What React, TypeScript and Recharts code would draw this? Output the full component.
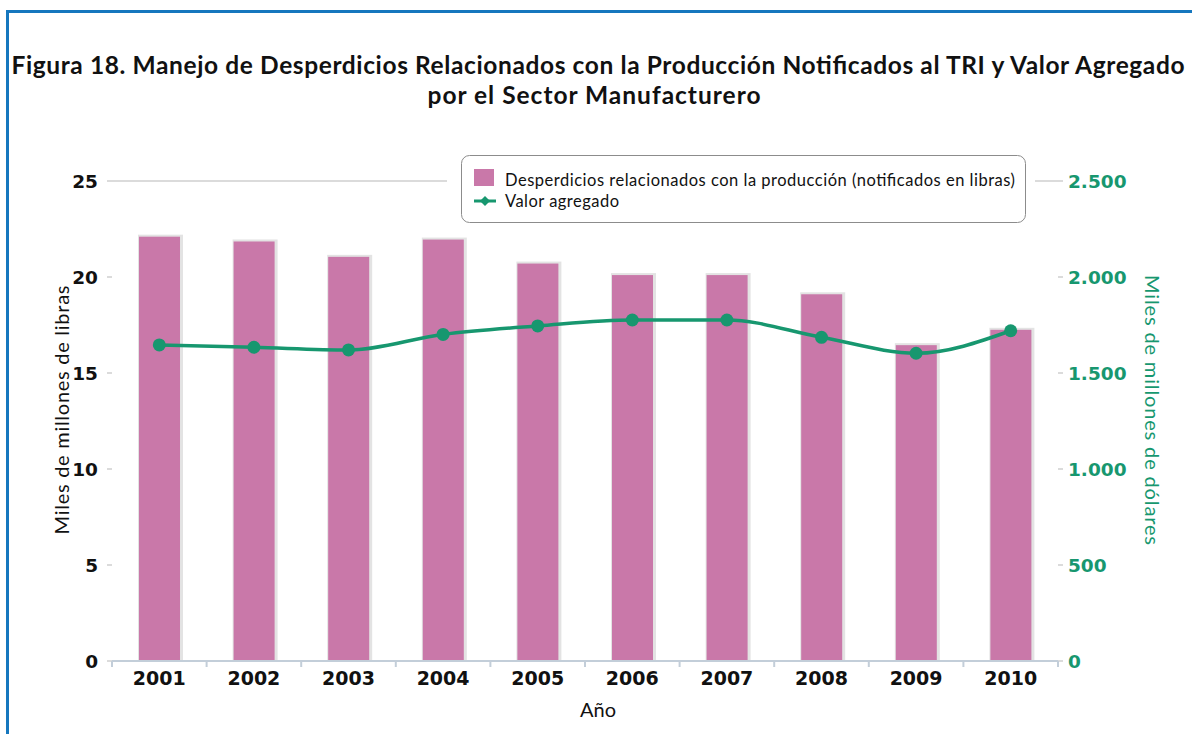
import React from "react";
import { Bar, CartesianGrid, ComposedChart, Legend, Line, XAxis, YAxis } from "recharts";

const years = ["2001", "2002", "2003", "2004", "2005", "2006", "2007", "2008", "2009", "2010"];
const desperdicios = [22.1, 21.85, 21.05, 21.95, 20.7, 20.1, 20.1, 19.1, 16.45, 17.25];
const valorAgregado = [1646, 1634, 1620, 1701, 1745, 1776, 1776, 1686, 1603, 1720];
const leftTicks = [0, 5, 10, 15, 20, 25];
const rightTicks = [0, 500, 1000, 1500, 2000, 2500];

const PINK = "#c978a9";
const GREEN = "#17976f";
const GRID = "#cfcfcf";
const AXIS = "#c3ced9";
const SANS = "Lato, 'Open Sans', sans-serif";
const TICK_FONT = "'DejaVu Sans', Verdana, sans-serif";

const data = years.map((year, i) => ({
  year,
  desperdicios: desperdicios[i],
  valor: valorAgregado[i],
}));

const fmtThousands = (v: number) => String(v).replace(/\B(?=(\d{3})+(?!\d))/g, ".");

function ShadowBar(props: any) {
  const { x, y, width, height } = props;
  if (!height || height <= 0) return null;
  return (
    <g>
      <rect x={x - 1} y={y - 2} width={width + 4} height={height + 2} fill="#e3e3e3" />
      <rect x={x} y={y} width={width} height={height} fill={PINK} />
    </g>
  );
}

function YearTick(props: any) {
  const { x, y, payload, index, visibleTicksCount } = props;
  const half = payload?.offset ?? 47.3;
  const top = y - 10;
  return (
    <g>
      <line x1={x - half} x2={x - half} y1={top} y2={top + 6} stroke={AXIS} strokeWidth={2} />
      {index === visibleTicksCount - 1 && (
        <line x1={x + half} x2={x + half} y1={top} y2={top + 6} stroke={AXIS} strokeWidth={2} />
      )}
      <text x={x} y={y + 14} textAnchor="middle" fontFamily={TICK_FONT} fontWeight="bold" fontSize={19} fill="#111">
        {payload.value}
      </text>
    </g>
  );
}

function LegendBox() {
  return (
    <div style={{ background: "#fff", padding: "5px 8px 5px 14px" }}>
      <svg width={566} height={69} style={{ display: "block" }}>
        <rect x={0.5} y={0.5} width={564} height={67} rx={8} fill="#fff" stroke="#8c8c8c" />
        <rect x={13} y={14} width={20} height={17} fill={PINK} />
        <text x={44} y={31} fontFamily={SANS} fontSize={16.5} fill="#111" textLength={510}>
          Desperdicios relacionados con la producción (notificados en libras)
        </text>
        <line x1={13} x2={35} y1={46} y2={46} stroke={GREEN} strokeWidth={3} />
        <path d="M24 41 L29 46 L24 51 L19 46 Z" fill={GREEN} />
        <text x={44} y={52} fontFamily={SANS} fontSize={16.5} fill="#111" textLength={114}>
          Valor agregado
        </text>
      </svg>
    </div>
  );
}

export default function App() {
  return (
    <div style={{ position: "absolute", left: 0, top: 0, width: 1192, height: 734, background: "#fff", overflow: "hidden" }}>
      <div
        style={{
          position: "absolute",
          left: 6,
          top: 10,
          right: 0,
          bottom: 0,
          borderLeft: "3px solid #1677be",
          borderTop: "3px solid #1677be",
        }}
      />
      <ComposedChart
        width={1192}
        height={734}
        data={data}
        margin={{ top: 181, right: 54, bottom: 33, left: 40 }}
        barCategoryGap={0}
        style={{ position: "absolute", left: 0, top: 0 }}
      >
        <CartesianGrid vertical={false} stroke={GRID} strokeWidth={1.5} />
        <XAxis
          dataKey="year"
          height={40}
          axisLine={{ stroke: AXIS, strokeWidth: 2 }}
          tickLine={false}
          tickSize={6}
          tickMargin={4}
          tick={<YearTick />}
          interval={0}
        />
        <YAxis
          yAxisId="left"
          width={72}
          domain={[0, 25]}
          ticks={leftTicks}
          axisLine={false}
          tickLine={{ stroke: GRID, strokeWidth: 1.5 }}
          tickSize={5}
          tickMargin={9}
          tick={{ fontFamily: TICK_FONT, fontWeight: "bold", fontSize: 18.5, fill: "#111" }}
        />
        <YAxis
          yAxisId="right"
          orientation="right"
          width={80}
          domain={[0, 2500]}
          ticks={rightTicks}
          axisLine={false}
          tickLine={{ stroke: GRID, strokeWidth: 1.5 }}
          tickSize={5}
          tickMargin={5}
          tickFormatter={fmtThousands}
          tick={{ fontFamily: TICK_FONT, fontWeight: "bold", fontSize: 18.5, fill: GREEN }}
        />
        <Legend
          layout="vertical"
          align="center"
          verticalAlign="middle"
          content={<LegendBox />}
          wrapperStyle={{ left: 447, top: 150, width: 588, height: 79 }}
        />
        <Bar
          yAxisId="left"
          dataKey="desperdicios"
          barSize={41}
          fill={PINK}
          shape={<ShadowBar />}
          isAnimationActive={false}
        />
        <Line
          yAxisId="right"
          type="monotone"
          dataKey="valor"
          stroke={GREEN}
          strokeWidth={3.5}
          dot={{ r: 6.5, fill: GREEN, stroke: GREEN, strokeWidth: 0 }}
          isAnimationActive={false}
        />
      </ComposedChart>
      <svg width={1192} height={734} style={{ position: "absolute", left: 0, top: 0, pointerEvents: "none" }}>
        <text x={598} y={74} textAnchor="middle" fontFamily={SANS} fontWeight="bold" fontSize={24.5} fill="#111" textLength={1173}>
          Figura 18. Manejo de Desperdicios Relacionados con la Producción Notificados al TRI y Valor Agregado
        </text>
        <text x={594} y={104} textAnchor="middle" fontFamily={SANS} fontWeight="bold" fontSize={24.5} fill="#111" textLength={333}>
          por el Sector Manufacturero
        </text>
        <text
          x={69}
          y={410}
          transform="rotate(-90 69 410)"
          textAnchor="middle"
          fontFamily={SANS}
          fontSize={20}
          fill="#111"
          textLength={249}
        >
          Miles de millones de libras
        </text>
        <text
          x={1145}
          y={410}
          transform="rotate(90 1145 410)"
          textAnchor="middle"
          fontFamily={SANS}
          fontSize={20}
          fill={GREEN}
          textLength={270}
        >
          Miles de millones de dólares
        </text>
        <text x={598} y={717} textAnchor="middle" fontFamily={SANS} fontSize={20} fill="#111">
          Año
        </text>
      </svg>
    </div>
  );
}
